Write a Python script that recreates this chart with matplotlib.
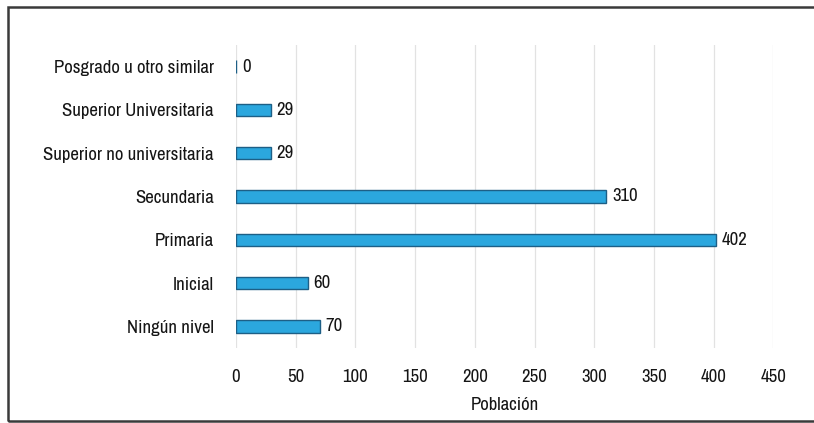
import matplotlib.pyplot as plt
from matplotlib.patches import Rectangle

niveles = ['Ningún nivel', 'Inicial', 'Primaria', 'Secundaria',
           'Superior no universitaria', 'Superior Universitaria',
           'Posgrado u otro similar']
poblacion = [70, 60, 402, 310, 29, 29, 0]
xticks = [0, 50, 100, 150, 200, 250, 300, 350, 400, 450]

plt.rcParams['font.family'] = ['Archivo Narrow', 'DejaVu Sans']

fig = plt.figure(figsize=(8.14, 4.23), dpi=100)
ax = fig.add_axes([0.290, 0.177, 0.660, 0.717])

# outer frame of the chart box
fig.patches.append(Rectangle((0.010, 0.005), 1.2, 0.978, transform=fig.transFigure,
                             fill=False, edgecolor='#3a3a3a', linewidth=1.8))

bars = ax.barh(niveles, poblacion, height=0.28, color='#2ba7de',
               edgecolor='#1d5f86', linewidth=1.0)
for b, v in zip(bars, poblacion):
    ax.text(b.get_width() + 5, b.get_y() + b.get_height() / 2, str(v),
            va='center', ha='left', fontsize=13.5, color='#151515')

ax.set_xlim(0, 450)
ax.set_ylim(-0.5, len(niveles) - 0.5)
ax.set_xticks(xticks)
ax.xaxis.grid(True, color='#e2e2e2', linewidth=0.9)
ax.set_axisbelow(True)
for s in ax.spines.values():
    s.set_visible(False)
ax.tick_params(axis='both', length=0, labelsize=13.5, colors='#151515')
ax.tick_params(axis='x', pad=15)
ax.tick_params(axis='y', pad=16)
ax.set_xlabel('Población', fontsize=13.5, color='#151515', labelpad=9)

fig.savefig('out.png', dpi=100)
